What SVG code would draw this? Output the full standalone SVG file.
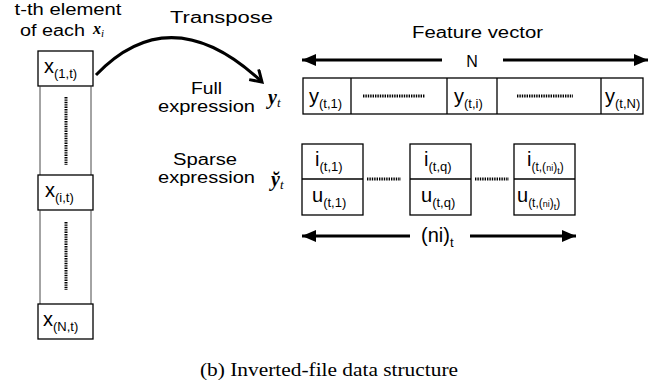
<svg xmlns="http://www.w3.org/2000/svg" width="669" height="387" viewBox="0 0 669 387">
<defs>
<style>
.t{font-family:"Liberation Sans",Arial,sans-serif;font-size:16px;fill:#000}
.c{text-anchor:middle}
.m{font-family:"Liberation Serif","Times New Roman",serif;font-style:italic;fill:#000}
.b{fill:#fff;stroke:#000;stroke-width:1.3}
.thin{stroke:#333;stroke-width:0.9;fill:none}
.dot{stroke:#000;stroke-width:3;stroke-dasharray:1.4 1;fill:none}
.arr{stroke:#000;stroke-width:3;fill:none}
.lab{font-family:"Liberation Sans",Arial,sans-serif;font-size:20px;fill:#000}
.sub{font-size:13px}
.cap{font-family:"Liberation Serif","Times New Roman",serif;font-size:19px;fill:#000}
</style>
<marker id="tri" markerUnits="userSpaceOnUse" markerWidth="16" markerHeight="14" refX="14" refY="6" orient="auto-start-reverse">
<path d="M0,0 L14,6 L0,12 Z" fill="#000"/>
</marker>
<marker id="vee" markerUnits="userSpaceOnUse" markerWidth="20" markerHeight="20" refX="12" refY="8" orient="auto">
<path d="M1,1 L12,8 L1,15" fill="none" stroke="#000" stroke-width="3"/>
</marker>
</defs>

<!-- header labels -->
<g id="column-title">
<text class="t c" x="68" y="15" textLength="107" lengthAdjust="spacingAndGlyphs">t-th element</text>
<text class="t" x="20" y="36" textLength="65" lengthAdjust="spacingAndGlyphs">of each</text>
<text class="m" x="93" y="34" font-size="16" font-weight="bold">x<tspan font-size="11" font-weight="normal" dy="3">i</tspan></text>
</g>
<g id="transpose-label">
<text class="t" x="170" y="23" textLength="103" lengthAdjust="spacingAndGlyphs">Transpose</text>
</g>
<g id="feature-label">
<text class="t" x="412" y="38" textLength="131" lengthAdjust="spacingAndGlyphs">Feature vector</text>
<text class="t c" x="472" y="67" font-size="18">N</text>
</g>
<g id="full-label">
<text class="t" x="191" y="94" textLength="31" lengthAdjust="spacingAndGlyphs">Full</text>
<text class="t" x="158" y="112" textLength="97" lengthAdjust="spacingAndGlyphs">expression</text>
<text class="m" x="268" y="104" font-size="20" font-weight="bold">y<tspan font-size="13" font-weight="normal" dy="3">t</tspan></text>
</g>
<g id="sparse-label">
<text class="t" x="173" y="165" textLength="64" lengthAdjust="spacingAndGlyphs">Sparse</text>
<text class="t" x="158" y="183" textLength="97" lengthAdjust="spacingAndGlyphs">expression</text>
<text class="m" x="271" y="186" font-size="20" font-weight="bold">y̆<tspan font-size="13" font-weight="normal" dy="3">t</tspan></text>
</g>

<!-- left column -->
<g id="x1">
<rect class="b" x="38" y="51" width="55" height="35"/>
<text class="lab" x="44" y="73">x<tspan class="sub" dy="5">(1,t)</tspan></text>
</g>
<g id="col-gap1">
<line class="thin" x1="40" y1="86" x2="40" y2="175"/>
<line class="thin" x1="91" y1="86" x2="91" y2="175"/>
<line class="dot" x1="66" y1="97" x2="66" y2="165"/>
</g>
<g id="xi">
<rect class="b" x="38" y="175" width="55" height="35"/>
<text class="lab" x="45" y="197">x<tspan class="sub" dy="5">(i,t)</tspan></text>
</g>
<g id="col-gap2">
<line class="thin" x1="40" y1="210" x2="40" y2="304"/>
<line class="thin" x1="91" y1="210" x2="91" y2="304"/>
<line class="dot" x1="66" y1="222" x2="66" y2="290"/>
</g>
<g id="xN">
<rect class="b" x="38" y="304" width="55" height="35"/>
<text class="lab" x="43" y="326">x<tspan class="sub" dy="5">(N,t)</tspan></text>
</g>

<!-- full vector row -->
<g id="full-row">
<rect class="b" x="303" y="78" width="340" height="36"/>
<line class="b" x1="351" y1="78" x2="351" y2="114"/>
<line class="b" x1="447" y1="78" x2="447" y2="114"/>
<line class="b" x1="497" y1="78" x2="497" y2="114"/>
<line class="b" x1="601" y1="78" x2="601" y2="114"/>
<text class="lab" x="309" y="103">y<tspan class="sub" dy="5">(t,1)</tspan></text>
<line class="dot" x1="363" y1="96" x2="425" y2="96"/>
<text class="lab" x="454" y="103">y<tspan class="sub" dy="5">(t,i)</tspan></text>
<line class="dot" x1="517" y1="96" x2="573" y2="96"/>
<text class="lab" x="605" y="103">y<tspan class="sub" dy="5">(t,N)</tspan></text>
</g>

<!-- sparse boxes -->
<g id="sparse1">
<rect class="b" x="302" y="144" width="61" height="71"/>
<line class="b" x1="302" y1="179" x2="363" y2="179"/>
<text class="lab" x="315" y="166">i<tspan class="sub" dy="5">(t,1)</tspan></text>
<text class="lab" x="312" y="202">u<tspan class="sub" dy="5">(t,1)</tspan></text>
</g>
<g id="sparse-dots">
<line class="dot" x1="367" y1="179" x2="401" y2="179"/>
<line class="dot" x1="475" y1="179" x2="509" y2="179"/>
</g>
<g id="sparseq">
<rect class="b" x="410" y="144" width="61" height="71"/>
<line class="b" x1="410" y1="179" x2="471" y2="179"/>
<text class="lab" x="424" y="166">i<tspan class="sub" dy="5">(t,q)</tspan></text>
<text class="lab" x="421" y="202">u<tspan class="sub" dy="5">(t,q)</tspan></text>
</g>
<g id="sparseN">
<rect class="b" x="514" y="144" width="61" height="71"/>
<line class="b" x1="514" y1="179" x2="575" y2="179"/>
<text class="lab" x="527" y="166">i<tspan font-size="12" dy="5">(t,(</tspan><tspan font-size="9">ni</tspan><tspan font-size="12">)</tspan><tspan font-size="9" dy="3">t</tspan><tspan font-size="12" dy="-3">)</tspan></text>
<text class="lab" x="517" y="202">u<tspan font-size="12" dy="5">(t,(</tspan><tspan font-size="9">ni</tspan><tspan font-size="12">)</tspan><tspan font-size="9" dy="3">t</tspan><tspan font-size="12" dy="-3">)</tspan></text>
</g>

<!-- connectors -->
<g id="connectors">
<path class="arr" d="M96,75 Q171,-3 262,82" marker-end="url(#vee)"/>
<line class="arr" x1="442" y1="60" x2="302" y2="60" marker-end="url(#tri)"/>
<line class="arr" x1="503" y1="60" x2="648" y2="60" marker-end="url(#tri)"/>
<line class="arr" x1="410" y1="236" x2="302" y2="236" marker-end="url(#tri)"/>
<line class="arr" x1="470" y1="236" x2="576" y2="236" marker-end="url(#tri)"/>
</g>
<g id="ni-label">
<text class="lab" x="421" y="242">(ni)<tspan class="sub" dy="5">t</tspan></text>
</g>

<text class="cap" x="200" y="376" textLength="258" lengthAdjust="spacingAndGlyphs">(b)  Inverted-file data structure</text>
</svg>
